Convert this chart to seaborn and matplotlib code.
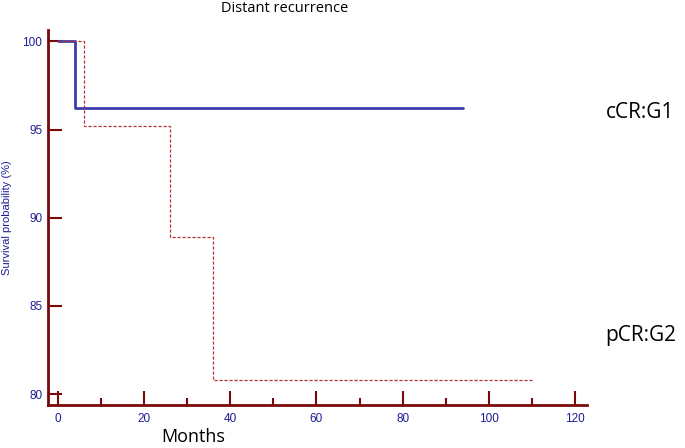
import matplotlib
matplotlib.use('Agg')
import matplotlib.pyplot as plt
import seaborn as sns
import pandas as pd

# Kaplan-Meier step data
g1_months = [0, 4, 4, 94]
g1_surv = [100, 100, 96.2, 96.2]
g2_months = [0, 6, 6, 26, 26, 36, 36, 110]
g2_surv = [100, 100, 95.2, 95.2, 88.9, 88.9, 80.8, 80.8]

x_ticks = [0, 20, 40, 60, 80, 100, 120]
y_ticks = [80, 85, 90, 95, 100]

df1 = pd.DataFrame({'Months': g1_months, 'Survival': g1_surv})
df2 = pd.DataFrame({'Months': g2_months, 'Survival': g2_surv})

sns.set_style('white')
plt.rcParams['font.family'] = ['Liberation Sans', 'DejaVu Sans']

axis_col = '#7a0a0a'
tick_col = '#1c1c96'

fig = plt.figure(figsize=(6.85, 4.48), dpi=100)
ax = fig.add_axes([0.070, 0.096, 0.787, 0.837])

sns.lineplot(data=df1, x='Months', y='Survival', ax=ax, color='#3c3cac',
             linewidth=2, sort=False, estimator=None)
sns.lineplot(data=df2, x='Months', y='Survival', ax=ax, color='#b03232',
             linewidth=0.9, linestyle=(0, (2.5, 1.5)), sort=False, estimator=None)

ax.set_xlim(-2.3, 122.8)
ax.set_ylim(79.38, 100.65)
ax.set_xticks(x_ticks)
ax.set_xticks([10, 30, 50, 70, 90, 110], minor=True)
ax.set_yticks(y_ticks)

for s in ['top', 'right']:
    ax.spines[s].set_visible(False)
for s in ['left', 'bottom']:
    ax.spines[s].set_color(axis_col)
    ax.spines[s].set_linewidth(2)

ax.tick_params(axis='both', which='major', direction='in', length=10, width=1.5,
               color=axis_col, labelcolor=tick_col, labelsize=8.5, pad=6,
               bottom=True, left=True)
ax.tick_params(axis='x', which='minor', direction='in', length=5, width=1.5,
               color=axis_col, bottom=True)
ax.tick_params(axis='y', which='major', pad=4)

ax.set_xlabel('Months', fontsize=13, color='black', family=['Open Sans', 'DejaVu Sans'])
ax.xaxis.set_label_coords(0.27, -0.062)
ax.set_ylabel('Survival probability (%)', fontsize=8, color=tick_col)
ax.yaxis.set_label_coords(-0.066, 0.5)

fig.text(0.415, 0.982, 'Distant recurrence', ha='center', va='center', fontsize=10.5,
         color='black', family=['Open Sans', 'DejaVu Sans'])
fig.text(0.935, 0.748, 'cCR:G1', ha='center', va='center', fontsize=15,
         color='black', family=['Open Sans', 'DejaVu Sans'])
fig.text(0.935, 0.252, 'pCR:G2', ha='center', va='center', fontsize=15,
         color='black', family=['Open Sans', 'DejaVu Sans'])

fig.savefig('out.png', dpi=100)
